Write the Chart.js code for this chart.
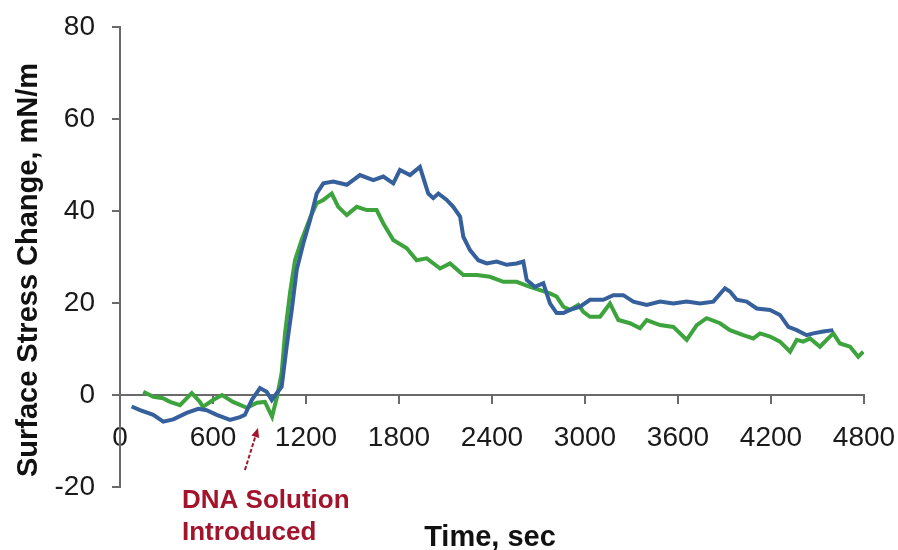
<!DOCTYPE html>
<html>
<head>
<meta charset="utf-8">
<script src="https://cdn.jsdelivr.net/npm/chart.js@4.4.0/dist/chart.umd.min.js"></script>
<style>
  html, body { margin: 0; padding: 0; background: #fff; }
  #wrap { width: 898px; height: 550px; }
</style>
</head>
<body>
<div id="wrap"><canvas id="stress-canvas" width="898" height="550"></canvas></div>
<script>
// time (s) and surface stress (mN/m) for the two cantilevers
var blueTime = [75, 129, 215, 279, 344, 430, 505, 559, 624, 710, 774, 806, 850, 903, 946, 979, 1011, 1043,
  1075, 1108, 1140, 1183, 1226, 1269, 1312, 1376, 1463, 1548, 1634, 1699, 1763, 1806, 1871, 1935, 1968,
  1989, 2021, 2054, 2108, 2150, 2194, 2215, 2258, 2312, 2366, 2430, 2495, 2559, 2602, 2624, 2677, 2731,
  2774, 2817, 2860, 2903, 2968, 3032, 3118, 3183, 3247, 3312, 3398, 3484, 3570, 3656, 3742, 3828, 3903,
  3935, 3979, 4043, 4108, 4194, 4258, 4312, 4366, 4430, 4473, 4537, 4602];
var blueStress = [-2.5, -3.3, -4.3, -5.8, -5.3, -3.9, -3.0, -3.3, -4.3, -5.4, -4.8, -4.3, -1.1, 1.5, 0.7, -1.1, 0.4, 1.8,
  10.5, 18.5, 27.2, 33.0, 38.0, 43.8, 46.0, 46.4, 45.7, 47.8, 46.7, 47.5, 46.0, 48.9, 47.8, 49.6, 46.0,
  43.8, 42.8, 43.8, 42.4, 40.9, 38.8, 34.4, 31.5, 29.3, 28.6, 29.0, 28.3, 28.6, 29.0, 25.0, 23.5, 24.3,
  19.9, 17.8, 17.8, 18.5, 19.2, 20.7, 20.7, 21.7, 21.7, 20.3, 19.6, 20.3, 19.9, 20.3, 19.9, 20.3, 23.2,
  22.5, 20.7, 20.3, 18.8, 18.5, 17.4, 14.8, 14.1, 13.0, 13.4, 13.8, 14.1];

var greenTime = [150, 215, 277, 323, 387, 463, 516, 535, 600, 658, 729, 819, 884, 935, 981, 1013, 1043,
  1065, 1097, 1129, 1172, 1226, 1269, 1312, 1366, 1408, 1463, 1527, 1592, 1656, 1699, 1763, 1850, 1914,
  1979, 2065, 2129, 2215, 2301, 2387, 2473, 2559, 2645, 2710, 2774, 2817, 2860, 2903, 2957, 2989, 3032,
  3097, 3161, 3215, 3290, 3355, 3398, 3484, 3570, 3656, 3721, 3785, 3871, 3935, 4021, 4086, 4129, 4194,
  4258, 4323, 4366, 4408, 4452, 4516, 4559, 4602, 4645, 4710, 4763, 4795];
var greenStress = [0.7, -0.4, -0.7, -1.5, -2.2, 0.4, -1.5, -2.6, -1.1, 0.0, -1.5, -2.8, -1.7, -1.5, -4.7, -0.4, 4.8,
  13.5, 22.2, 29.3, 33.7, 38.5, 41.7, 42.4, 43.8, 40.9, 39.1, 40.9, 40.2, 40.2, 37.3, 33.7, 31.9, 29.3,
  29.7, 27.5, 28.6, 26.1, 26.1, 25.7, 24.6, 24.6, 23.5, 22.8, 22.1, 21.4, 19.2, 18.5, 19.6, 18.1, 17.0,
  17.0, 19.9, 16.3, 15.6, 14.5, 16.3, 15.2, 14.8, 12.0, 15.2, 16.7, 15.6, 14.1, 13.0, 12.3, 13.4, 12.7,
  11.6, 9.4, 12.0, 11.6, 12.3, 10.5, 12.0, 13.4, 11.2, 10.5, 8.3, 9.4];

var xTicks = [0, 600, 1200, 1800, 2400, 3000, 3600, 4200, 4800];
var yTicks = [-20, 0, 20, 40, 60, 80];

// arrow for the injection note, tail and head as [time, stress]
var injectArrow = [[806, -16.3], [890, -7.2]];

(function() {
  'use strict';

  var fontFamily = '"Liberation Sans", Arial, sans-serif';
  var axisColor = '#6a6a6a';
  var noteColor = '#a3142c';

  function toPoints(xs, ys) {
    var pts = [];
    for (var i = 0; i < xs.length; i++) {
      pts.push({ x: xs[i], y: ys[i] });
    }
    return pts;
  }

  function plainLabel(value) {
    return String(value);
  }

  // plot box comes from layout.padding alone, not from label overhang
  function noOverhang(scale) {
    scale.paddingLeft = 0;
    scale.paddingRight = 0;
    scale.paddingTop = 0;
    scale.paddingBottom = 0;
  }

  // titles and the red note are drawn straight onto the canvas
  var labelsPlugin = {
    id: 'stressLabels',
    afterDraw: function(chart) {
      var ctx = chart.ctx;
      var xs = chart.scales.x;
      var ys = chart.scales.y;
      ctx.save();
      ctx.fillStyle = '#111';
      ctx.font = 'bold 29px ' + fontFamily;
      ctx.textBaseline = 'alphabetic';

      ctx.save();
      ctx.translate(37, 270);
      ctx.rotate(-Math.PI / 2);
      ctx.textAlign = 'center';
      ctx.fillText('Surface Stress Change, mN/m', 0, 0);
      ctx.restore();

      ctx.textAlign = 'center';
      ctx.fillText('Time, sec', 490, 546);

      ctx.fillStyle = noteColor;
      ctx.font = 'bold 26px ' + fontFamily;
      ctx.textAlign = 'left';
      ctx.fillText('DNA Solution', 182, 508);
      ctx.fillText('Introduced', 182, 540);

      var x0 = xs.getPixelForValue(injectArrow[0][0]);
      var y0 = ys.getPixelForValue(injectArrow[0][1]);
      var x1 = xs.getPixelForValue(injectArrow[1][0]);
      var y1 = ys.getPixelForValue(injectArrow[1][1]);
      var ang = Math.atan2(y1 - y0, x1 - x0);
      ctx.strokeStyle = noteColor;
      ctx.lineWidth = 2;
      ctx.setLineDash([4, 2]);
      ctx.beginPath();
      ctx.moveTo(x0, y0);
      ctx.lineTo(x1 - 5 * Math.cos(ang), y1 - 5 * Math.sin(ang));
      ctx.stroke();
      ctx.setLineDash([]);
      ctx.beginPath();
      ctx.moveTo(x1, y1);
      ctx.lineTo(x1 - 9 * Math.cos(ang) + 4 * Math.sin(ang), y1 - 9 * Math.sin(ang) - 4 * Math.cos(ang));
      ctx.lineTo(x1 - 9 * Math.cos(ang) - 4 * Math.sin(ang), y1 - 9 * Math.sin(ang) + 4 * Math.cos(ang));
      ctx.closePath();
      ctx.fillStyle = noteColor;
      ctx.fill();
      ctx.restore();
    }
  };

  var ctx = document.getElementById('stress-canvas').getContext('2d');
  var chartObj = new Chart(ctx, {
    type: 'scatter',
    data: {
      datasets: [{
        data: toPoints(blueTime, blueStress),
        showLine: true,
        borderColor: '#35609c',
        borderWidth: 4,
        pointRadius: 0,
        tension: 0
      }, {
        data: toPoints(greenTime, greenStress),
        showLine: true,
        borderColor: '#3da33d',
        borderWidth: 4,
        pointRadius: 0,
        tension: 0
      }]
    },
    options: {
      responsive: false,
      animation: false,
      layout: { padding: { left: 0, top: 27, right: 34, bottom: 63 } },
      plugins: {
        legend: { display: false },
        tooltip: { enabled: false }
      },
      scales: {
        x: {
          type: 'linear',
          position: { y: 0 },
          min: 0,
          max: 4800,
          afterBuildTicks: function(scale) {
            scale.ticks = xTicks.map(function(v) { return { value: v }; });
          },
          afterFit: noOverhang,
          grid: { drawOnChartArea: false, drawTicks: true, tickLength: 8, color: axisColor, lineWidth: 2 },
          border: { display: true, color: axisColor, width: 2 },
          ticks: {
            color: '#1a1a1a',
            font: { size: 28, family: fontFamily },
            padding: 18,
            maxRotation: 0,
            autoSkip: false,
            callback: plainLabel
          }
        },
        y: {
          type: 'linear',
          position: 'left',
          min: -20,
          max: 80,
          afterBuildTicks: function(scale) {
            scale.ticks = yTicks.map(function(v) { return { value: v }; });
          },
          afterFit: function(scale) {
            scale.width = 120;
            noOverhang(scale);
          },
          grid: { drawOnChartArea: false, drawTicks: true, tickLength: 8, color: axisColor, lineWidth: 2 },
          border: { display: true, color: axisColor, width: 2 },
          ticks: {
            color: '#1a1a1a',
            font: { size: 28, family: fontFamily },
            padding: 17,
            callback: plainLabel
          }
        }
      }
    },
    plugins: [labelsPlugin]
  });
})();
</script>
</body>
</html>
